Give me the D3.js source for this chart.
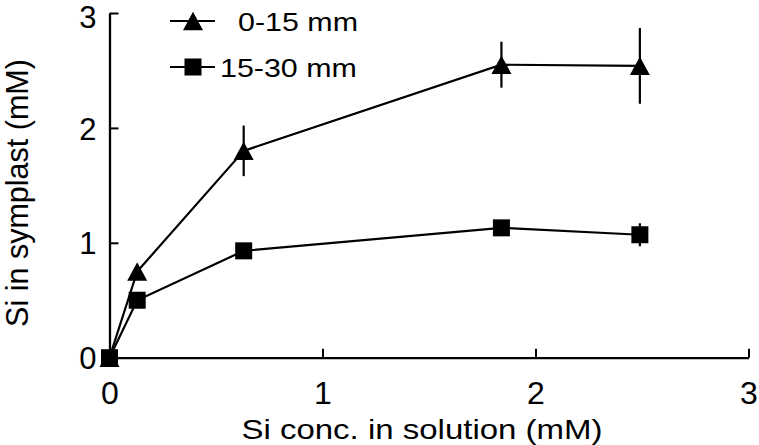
<!DOCTYPE html>
<html><head><meta charset="utf-8">
<script src="https://cdn.jsdelivr.net/npm/d3@7"></script>
<style>body{margin:0;background:#fff}svg{display:block}text{font-family:"Liberation Sans",Arial,sans-serif;fill:#000}</style>
</head><body><svg id="c" width="759" height="445"></svg>
<script>
const xValues = [0, 0.13, 0.63, 1.84, 2.49];
const seriesNames = ["0-15 mm", "15-30 mm"];
const tri = [0, 0.75, 1.80, 2.55, 2.54];
const triErr = [0, 0.04, 0.22, 0.20, 0.33];
const sq = [0, 0.50, 0.93, 1.13, 1.07];
const sqErr = [0, 0.03, 0.04, 0.04, 0.10];
const xTicks = [0, 1, 2, 3];
const yTicks = [0, 1, 2, 3];
const xTitle = "Si conc. in solution (mM)";
const yTitle = "Si in symplast (mM)";

const svg = d3.select("#c");
const x = d3.scaleLinear().domain([0, 3]).range([109.5, 748.5]);
const y = d3.scaleLinear().domain([0, 3]).range([357.7, 13]);

// axes
const xAxis = d3.axisBottom(x).tickValues(xTicks).tickSize(-9).tickSizeOuter(0).tickFormat(d3.format("d"));
const gx = svg.append("g").attr("transform", `translate(0,${y(0)})`).call(xAxis);
gx.select(".domain").attr("stroke-width", 2.3);
gx.selectAll(".tick line").attr("stroke-width", 2);
gx.selectAll(".tick text").attr("font-size", 32).attr("y", 0).attr("dy", "1.45em").attr("font-family", "Liberation Sans, Arial, sans-serif");

const yAxis = d3.axisLeft(y).tickValues(yTicks).tickSize(-9).tickSizeOuter(0).tickFormat(d3.format("d"));
const gy = svg.append("g").attr("transform", `translate(${x(0)},0)`).call(yAxis);
gy.select(".domain").attr("stroke-width", 2.3);
gy.selectAll(".tick line").attr("stroke-width", 2);
gy.selectAll(".tick text").attr("font-size", 31).attr("x", -13)
  .attr("dy", d => d === 3 ? "0.48em" : "0.36em").attr("font-family", "Liberation Sans, Arial, sans-serif");
svg.selectAll(".tick text").attr("fill", "#000");

// titles
svg.append("text").attr("transform", `translate(${(x(0)+x(3))/2 - 7},439) scale(1.2,1)`)
  .attr("text-anchor", "middle").attr("font-size", 27.5).text(xTitle);
svg.append("text").attr("transform", "translate(28,193) rotate(-90)")
  .attr("text-anchor", "middle").attr("font-size", 30.5).text(yTitle);

const triPath = (w) => { const h = w * 0.92; return `M0,${-h/2}L${w/2},${h/2}L${-w/2},${h/2}Z`; };
const sqPath = (s) => `M${-s/2},${-s/2}h${s}v${s}h${-s}Z`;

const series = [
  {vals: tri, err: triErr, shape: triPath(20)},
  {vals: sq, err: sqErr, shape: sqPath(17)}
];
const line = d3.line().x((d) => x(d[0])).y((d) => y(d[1]));
series.forEach(s => {
  const pts = xValues.map((xv, i) => [xv, s.vals[i], s.err[i]]);
  svg.append("path").attr("d", line(pts)).attr("fill", "none").attr("stroke", "#000").attr("stroke-width", 2.2);
  svg.append("g").selectAll("line").data(pts.filter(p => p[2] > 0)).join("line")
    .attr("x1", d => x(d[0])).attr("x2", d => x(d[0]))
    .attr("y1", d => y(d[1] + d[2])).attr("y2", d => y(d[1] - d[2]))
    .attr("stroke", "#000").attr("stroke-width", 2.2);
  svg.append("g").selectAll("path").data(pts).join("path")
    .attr("transform", d => `translate(${x(d[0])},${y(d[1])})`)
    .attr("d", s.shape).attr("fill", "#000");
});

// legend
const legY = [21, 67];
const legTextX = [238, 220];
const legG = svg.append("g");
series.forEach((s, i) => {
  legG.append("line").attr("x1", 170).attr("x2", 215).attr("y1", legY[i]).attr("y2", legY[i]).attr("stroke", "#000").attr("stroke-width", 2.2);
  legG.append("path").attr("transform", `translate(193,${legY[i]})`).attr("d", s.shape).attr("fill", "#000");
  legG.append("text").attr("transform", `translate(${legTextX[i]},${legY[i] + 10}) scale(1.17,1)`)
    .attr("font-size", 26).text(seriesNames[i]);
});
</script></body></html>
